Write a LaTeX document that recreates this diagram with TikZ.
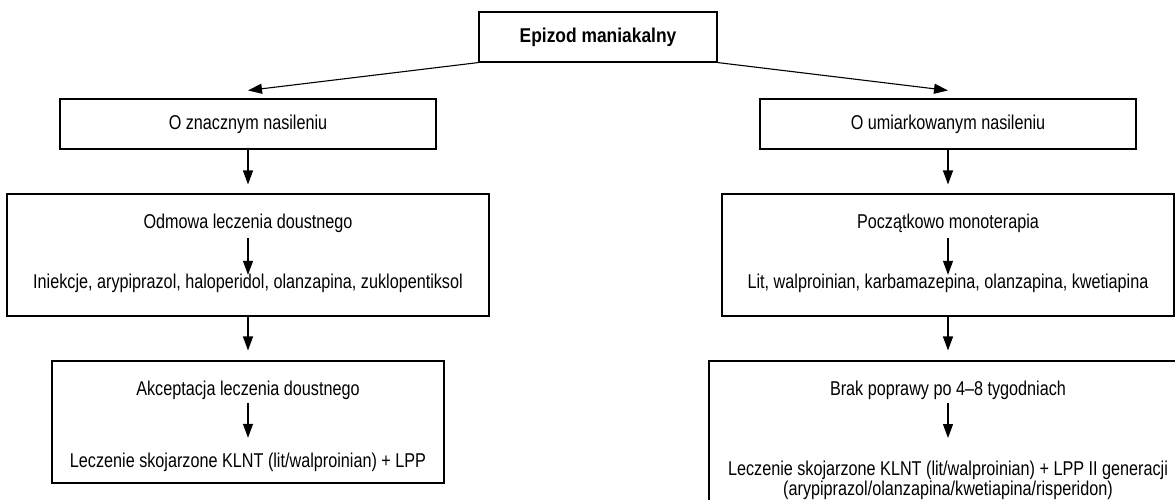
\documentclass[tikz,border=0pt]{standalone}
\usepackage{fontspec}
\setmainfont{Liberation Sans}[FakeStretch=0.81,BoldFeatures={FakeStretch=0.87}]
\usetikzlibrary{arrows.meta}

\begin{document}
\begin{tikzpicture}[x=1pt,y=-1pt,
	box/.style={draw,line width=1.1pt,rectangle,inner sep=0pt,font=\fontsize{20}{19}\selectfont},
	txt/.style={inner sep=0pt,anchor=base,text height=13pt,text depth=4pt,font=\fontsize{20}{19}\selectfont},
	arr/.style={line width=1.1pt,-{Triangle[length=14pt,width=10pt]}}]
	\useasboundingbox (0,0) rectangle (1175,500);
	\clip (0,0) rectangle (1175,500);
	\node[box,font=\bfseries\fontsize{20}{19}\selectfont,minimum width=238pt,minimum height=50pt] (epizod) at (598,37) {Epizod maniakalny};
	\node[box,minimum width=376pt,minimum height=50pt] (znaczny) at (248,124) {O znacznym nasileniu};
	\node[box,minimum width=376pt,minimum height=50pt] (umiark) at (948,124) {O umiarkowanym nasileniu};
	\node[box,minimum width=482pt,minimum height=122pt] (odmowa) at (248,255) {};
	\node[box,minimum width=452pt,minimum height=122pt] (mono) at (948,255) {};
	\node[box,minimum width=392pt,minimum height=122pt] (akcept) at (248,422) {};
	\node[box,minimum width=478pt,minimum height=150pt] (brak) at (948,436) {};
	\node[txt] (odmowaA) at (248,228) {Odmowa leczenia doustnego};
	\node[txt] (odmowaB) at (248,288) {Iniekcje, arypiprazol, haloperidol, olanzapina, zuklopentiksol};
	\node[txt] (monoA) at (948,228) {Początkowo monoterapia};
	\node[txt] (monoB) at (948,288) {Lit, walproinian, karbamazepina, olanzapina, kwetiapina};
	\node[txt] (akceptA) at (248,395) {Akceptacja leczenia doustnego};
	\node[txt] (akceptB) at (248,467) {Leczenie skojarzone KLNT (lit/walproinian) + LPP};
	\node[txt] (brakA) at (948,395) {Brak poprawy po 4–8 tygodniach};
	\node[inner sep=0pt,anchor=north,align=center,font=\fontsize{20}{18}\selectfont] (brakB) at (948,461)
		{Leczenie skojarzone KLNT (lit/walproinian) + LPP II generacji\\(arypiprazol/olanzapina/kwetiapina/risperidon)};
	\draw[arr] (epizod.south west) -- ([yshift=8pt]znaczny.north);
	\draw[arr] (epizod.south east) -- ([yshift=8pt]umiark.north);
	\draw[arr,shorten >=9pt] (znaczny) -- (odmowa);
	\draw[arr,shorten >=9pt] (umiark) -- (mono);
	\draw[arr,shorten >=10pt] (odmowa) -- (akcept);
	\draw[arr,shorten >=10pt] (mono) -- (brak);
	\draw[arr,shorten <=6pt] (odmowaA) -- (odmowaB);
	\draw[arr,shorten <=6pt] (monoA) -- (monoB);
	\draw[arr,shorten <=4pt,shorten >=16pt] (akceptA) -- (akceptB);
	\draw[arr,shorten <=4pt,shorten >=23pt] (brakA) -- (brakB);
\end{tikzpicture}
\end{document}
